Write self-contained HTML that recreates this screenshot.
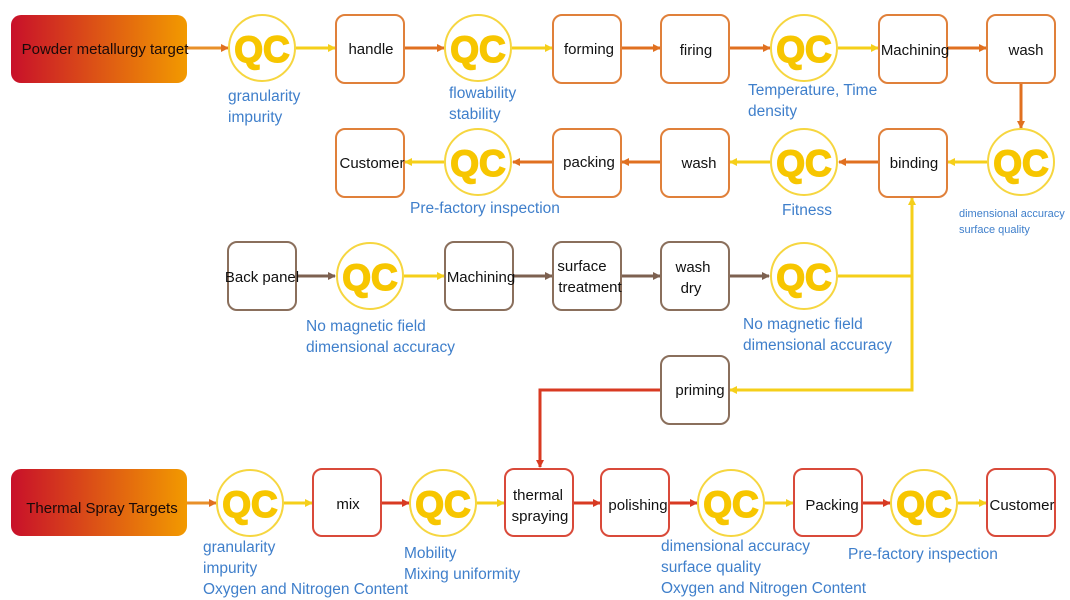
<!DOCTYPE html>
<html><head><meta charset="utf-8"><style>
html,body{margin:0;padding:0;background:#fff;width:1070px;height:600px;overflow:hidden}
svg text{font-family:"Liberation Sans","DejaVu Sans",sans-serif}
.b{fill:#fff;stroke-width:2}
.o{stroke:#e0803a}.br{stroke:#8a6f5c}.r{stroke:#d94a3a}
.q{fill:#fff;stroke:#f6d640;stroke-width:2}
.qt{font-size:37px;font-weight:bold;fill:#f7c600;stroke:#f7c600;stroke-width:1.5;text-anchor:middle}
.t{font-size:15px;fill:#111;text-anchor:middle}
.l{font-size:15.5px;fill:#3f7fcb}
.s{font-size:11px;fill:#3f7fcb}
</style></head><body>
<svg width="1070" height="600" viewBox="0 0 1070 600" xmlns="http://www.w3.org/2000/svg">
<defs>
<linearGradient id="g" x1="0" x2="1"><stop offset="0" stop-color="#c8102a"/><stop offset="1" stop-color="#f29a00"/></linearGradient>
<marker id="mo" markerWidth="8" markerHeight="8" refX="7" refY="4" orient="auto" markerUnits="userSpaceOnUse"><path d="M0,0L8,4L0,8z" fill="#e07020"/></marker>
<marker id="my" markerWidth="8" markerHeight="8" refX="7" refY="4" orient="auto" markerUnits="userSpaceOnUse"><path d="M0,0L8,4L0,8z" fill="#f5cf1a"/></marker>
<marker id="mr" markerWidth="8" markerHeight="8" refX="7" refY="4" orient="auto" markerUnits="userSpaceOnUse"><path d="M0,0L8,4L0,8z" fill="#d83a22"/></marker>
<marker id="mb" markerWidth="8" markerHeight="8" refX="7" refY="4" orient="auto" markerUnits="userSpaceOnUse"><path d="M0,0L8,4L0,8z" fill="#7d6150"/></marker>
</defs>
<g stroke-width="3" fill="none">
<line x1="187" y1="48" x2="228" y2="48" stroke="#e8902a" marker-end="url(#mo)"/>
<line x1="296" y1="48" x2="335" y2="48" stroke="#f5cf1a" marker-end="url(#my)"/>
<line x1="404" y1="48" x2="444" y2="48" stroke="#e07020" marker-end="url(#mo)"/>
<line x1="512" y1="48" x2="552" y2="48" stroke="#f5cf1a" marker-end="url(#my)"/>
<line x1="621" y1="48" x2="660" y2="48" stroke="#e07020" marker-end="url(#mo)"/>
<line x1="729" y1="48" x2="770" y2="48" stroke="#e07020" marker-end="url(#mo)"/>
<line x1="838" y1="48" x2="878" y2="48" stroke="#f5cf1a" marker-end="url(#my)"/>
<line x1="947" y1="48" x2="986" y2="48" stroke="#e07020" marker-end="url(#mo)"/>
<line x1="1021" y1="83" x2="1021" y2="128" stroke="#e07020" marker-end="url(#mo)"/>
<line x1="987" y1="162" x2="948" y2="162" stroke="#f5cf1a" marker-end="url(#my)"/>
<line x1="879" y1="162" x2="839" y2="162" stroke="#e07020" marker-end="url(#mo)"/>
<line x1="770" y1="162" x2="730" y2="162" stroke="#f5cf1a" marker-end="url(#my)"/>
<line x1="661" y1="162" x2="622" y2="162" stroke="#e07020" marker-end="url(#mo)"/>
<line x1="553" y1="162" x2="513" y2="162" stroke="#e07020" marker-end="url(#mo)"/>
<line x1="444" y1="162" x2="405" y2="162" stroke="#f5cf1a" marker-end="url(#my)"/>
<line x1="296" y1="276" x2="335" y2="276" stroke="#7d6150" marker-end="url(#mb)"/>
<line x1="404" y1="276" x2="444" y2="276" stroke="#f5cf1a" marker-end="url(#my)"/>
<line x1="513" y1="276" x2="552" y2="276" stroke="#7d6150" marker-end="url(#mb)"/>
<line x1="621" y1="276" x2="660" y2="276" stroke="#7d6150" marker-end="url(#mb)"/>
<line x1="729" y1="276" x2="769" y2="276" stroke="#7d6150" marker-end="url(#mb)"/>
<polyline points="838,276 912,276 912,198" stroke="#f5cf1a" marker-end="url(#my)"/>
<polyline points="912,276 912,390 730,390" stroke="#f5cf1a" marker-end="url(#my)"/>
<polyline points="661,390 540,390 540,467" stroke="#d83a22" marker-end="url(#mr)"/>
<line x1="187" y1="503" x2="216" y2="503" stroke="#e8902a" marker-end="url(#mo)"/>
<line x1="284" y1="503" x2="312" y2="503" stroke="#f5cf1a" marker-end="url(#my)"/>
<line x1="381" y1="503" x2="409" y2="503" stroke="#d83a22" marker-end="url(#mr)"/>
<line x1="477" y1="503" x2="504" y2="503" stroke="#f5cf1a" marker-end="url(#my)"/>
<line x1="573" y1="503" x2="600" y2="503" stroke="#d83a22" marker-end="url(#mr)"/>
<line x1="669" y1="503" x2="697" y2="503" stroke="#d83a22" marker-end="url(#mr)"/>
<line x1="765" y1="503" x2="793" y2="503" stroke="#f5cf1a" marker-end="url(#my)"/>
<line x1="862" y1="503" x2="890" y2="503" stroke="#d83a22" marker-end="url(#mr)"/>
<line x1="958" y1="503" x2="986" y2="503" stroke="#f5cf1a" marker-end="url(#my)"/>
</g>
<rect x="11" y="15" width="176" height="68" rx="10" fill="url(#g)"/>
<text x="105" y="54" class="t" style="fill:#1a0a0a">Powder metallurgy target</text>
<rect x="11" y="469" width="176" height="67" rx="10" fill="url(#g)"/>
<text x="102" y="513" class="t" style="fill:#1a0a0a">Thermal Spray Targets</text>
<g>
<rect class="b o" x="336" y="15" width="68" height="68" rx="9"/><text class="t" x="371" y="54">handle</text>
<rect class="b o" x="553" y="15" width="68" height="68" rx="9"/><text class="t" x="589" y="54">forming</text>
<rect class="b o" x="661" y="15" width="68" height="68" rx="9"/><text class="t" x="696" y="55">firing</text>
<rect class="b o" x="879" y="15" width="68" height="68" rx="9"/><text class="t" x="915" y="55">Machining</text>
<rect class="b o" x="987" y="15" width="68" height="68" rx="9"/><text class="t" x="1026" y="55">wash</text>
<rect class="b o" x="336" y="129" width="68" height="68" rx="9"/><text class="t" x="372" y="168">Customer</text>
<rect class="b o" x="553" y="129" width="68" height="68" rx="9"/><text class="t" x="589" y="167">packing</text>
<rect class="b o" x="661" y="129" width="68" height="68" rx="9"/><text class="t" x="699" y="168">wash</text>
<rect class="b o" x="879" y="129" width="68" height="68" rx="9"/><text class="t" x="914" y="168">binding</text>
<rect class="b br" x="228" y="242" width="68" height="68" rx="9"/><text class="t" x="262" y="282">Back panel</text>
<rect class="b br" x="445" y="242" width="68" height="68" rx="9"/><text class="t" x="481" y="282">Machining</text>
<rect class="b br" x="553" y="242" width="68" height="68" rx="9"/><text class="t" x="582" y="271">surface</text><text class="t" x="590" y="292">treatment</text>
<rect class="b br" x="661" y="242" width="68" height="68" rx="9"/><text class="t" x="693" y="272">wash</text><text class="t" x="691" y="293">dry</text>
<rect class="b br" x="661" y="356" width="68" height="68" rx="9"/><text class="t" x="700" y="395">priming</text>
<rect class="b r" x="313" y="469" width="68" height="67" rx="9"/><text class="t" x="348" y="509">mix</text>
<rect class="b r" x="505" y="469" width="68" height="67" rx="9"/><text class="t" x="538" y="500">thermal</text><text class="t" x="540" y="521">spraying</text>
<rect class="b r" x="601" y="469" width="68" height="67" rx="9"/><text class="t" x="638" y="510">polishing</text>
<rect class="b r" x="794" y="469" width="68" height="67" rx="9"/><text class="t" x="832" y="510">Packing</text>
<rect class="b r" x="987" y="469" width="68" height="67" rx="9"/><text class="t" x="1022" y="510">Customer</text>
</g>
<g>
<circle class="q" cx="262" cy="48" r="33"/><text class="qt" x="262" y="62">QC</text>
<circle class="q" cx="478" cy="48" r="33"/><text class="qt" x="478" y="62">QC</text>
<circle class="q" cx="804" cy="48" r="33"/><text class="qt" x="804" y="62">QC</text>
<circle class="q" cx="1021" cy="162" r="33"/><text class="qt" x="1021" y="176">QC</text>
<circle class="q" cx="804" cy="162" r="33"/><text class="qt" x="804" y="176">QC</text>
<circle class="q" cx="478" cy="162" r="33"/><text class="qt" x="478" y="176">QC</text>
<circle class="q" cx="370" cy="276" r="33"/><text class="qt" x="370" y="290">QC</text>
<circle class="q" cx="804" cy="276" r="33"/><text class="qt" x="804" y="290">QC</text>
<circle class="q" cx="250" cy="503" r="33"/><text class="qt" x="250" y="517">QC</text>
<circle class="q" cx="443" cy="503" r="33"/><text class="qt" x="443" y="517">QC</text>
<circle class="q" cx="731" cy="503" r="33"/><text class="qt" x="731" y="517">QC</text>
<circle class="q" cx="924" cy="503" r="33"/><text class="qt" x="924" y="517">QC</text>
</g>
<g>
<text class="l" x="228" y="101">granularity</text><text class="l" x="228" y="122">impurity</text>
<text class="l" x="449" y="98">flowability</text><text class="l" x="449" y="119">stability</text>
<text class="l" x="748" y="95">Temperature, Time</text><text class="l" x="748" y="116">density</text>
<text class="l" x="410" y="213">Pre-factory inspection</text>
<text class="l" x="782" y="215">Fitness</text>
<text class="s" x="959" y="217">dimensional accuracy</text><text class="s" x="959" y="233">surface quality</text>
<text class="l" x="306" y="331">No magnetic field</text><text class="l" x="306" y="352">dimensional accuracy</text>
<text class="l" x="743" y="329">No magnetic field</text><text class="l" x="743" y="350">dimensional accuracy</text>
<text class="l" x="203" y="552">granularity</text><text class="l" x="203" y="573">impurity</text><text class="l" x="203" y="594">Oxygen and Nitrogen Content</text>
<text class="l" x="404" y="558">Mobility</text><text class="l" x="404" y="579">Mixing uniformity</text>
<text class="l" x="661" y="551">dimensional accuracy</text><text class="l" x="661" y="572">surface quality</text><text class="l" x="661" y="593">Oxygen and Nitrogen Content</text>
<text class="l" x="848" y="559">Pre-factory inspection</text>
</g>
</svg>
</body></html>
